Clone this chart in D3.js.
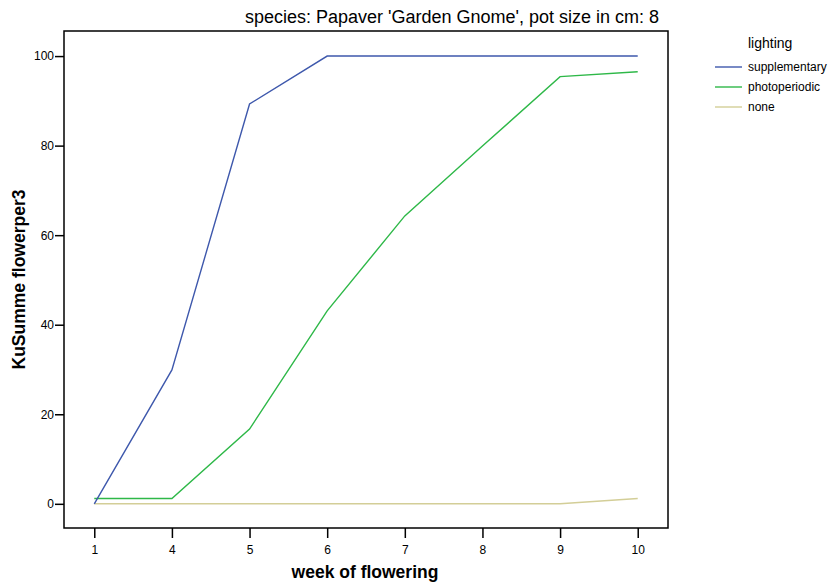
<!DOCTYPE html>
<html>
<head>
<meta charset="utf-8">
<script src="https://cdn.jsdelivr.net/npm/d3@7"></script>
<style>
  body { margin: 0; background: #fff; }
  svg { font-family: "Liberation Sans", Arial, sans-serif; }
</style>
</head>
<body>
<svg id="chart" width="833" height="583"></svg>
<script>
// weeks on the x axis (categorical)
const weeks = ["1", "4", "5", "6", "7", "8", "9", "10"];
const yTicks = [0, 20, 40, 60, 80, 100];

const supplementary = [0, 29.9, 89.3, 100, 100, 100, 100, 100];
const photoperiodic = [1.2, 1.2, 16.7, 43.1, 64.3, 79.9, 95.4, 96.5];
const none = [0, 0, 0, 0, 0, 0, 0, 1.2];

const seriesNames = ["supplementary", "photoperiodic", "none"];
const seriesColors = ["#3e58ac", "#2eb848", "#d3ce97"];
const seriesData = [supplementary, photoperiodic, none];

const svg = d3.select("#chart");
const margin = { top: 31, right: 165, bottom: 55, left: 64 };
const width = 833, height = 583;

const x = d3.scalePoint()
  .domain(weeks)
  .range([margin.left, width - margin.right])
  .padding(0.39);

const y = d3.scaleLinear()
  .domain([-5.4, 105.6])
  .range([height - margin.bottom, margin.top]);

// frame
svg.append("rect")
  .attr("x", margin.left)
  .attr("y", margin.top)
  .attr("width", width - margin.right - margin.left)
  .attr("height", height - margin.bottom - margin.top)
  .attr("fill", "none")
  .attr("stroke", "#000")
  .attr("stroke-width", 1.5);

const xAxis = g => g
  .attr("transform", `translate(0,${height - margin.bottom})`)
  .call(d3.axisBottom(x).tickSize(10).tickPadding(7).tickSizeOuter(0))
  .call(g => g.select(".domain").remove())
  .call(g => g.selectAll("line").attr("stroke-width", 1.5))
  .call(g => g.selectAll("text").style("font-size", "12px").attr("fill", "#000"));

const yAxis = g => g
  .attr("transform", `translate(${margin.left},0)`)
  .call(d3.axisLeft(y).tickValues(yTicks).tickSize(9).tickPadding(1).tickSizeOuter(0))
  .call(g => g.select(".domain").remove())
  .call(g => g.selectAll("line").attr("stroke-width", 1.5))
  .call(g => g.selectAll("text").style("font-size", "12px").attr("fill", "#000"));

svg.append("g").call(xAxis);
svg.append("g").call(yAxis);

const line = d3.line()
  .x((d, i) => x(weeks[i]))
  .y(d => y(d));

// draw none first so the others sit on top
[2, 1, 0].forEach(k => {
  svg.append("path")
    .datum(seriesData[k])
    .attr("fill", "none")
    .attr("stroke", seriesColors[k])
    .attr("stroke-width", 1.4)
    .attr("d", line);
});

// titles
svg.append("text")
  .attr("x", 452)
  .attr("y", 23)
  .attr("text-anchor", "middle")
  .style("font-size", "18px")
  .text("species: Papaver 'Garden Gnome', pot size in cm: 8");

svg.append("text")
  .attr("x", 365)
  .attr("y", 578)
  .attr("text-anchor", "middle")
  .style("font-size", "17.5px")
  .style("font-weight", "bold")
  .text("week of flowering");

svg.append("text")
  .attr("transform", `translate(25,${(margin.top + height - margin.bottom) / 2}) rotate(-90)`)
  .attr("text-anchor", "middle")
  .style("font-size", "17.5px")
  .style("font-weight", "bold")
  .text("KuSumme flowerper3");

// legend
const legend = svg.append("g").attr("transform", "translate(715,0)");
legend.append("text")
  .attr("x", 33)
  .attr("y", 48)
  .style("font-size", "14px")
  .text("lighting");

seriesNames.forEach((name, i) => {
  const yy = 67 + i * 20;
  legend.append("line")
    .attr("x1", 0).attr("x2", 27)
    .attr("y1", yy).attr("y2", yy)
    .attr("stroke", seriesColors[i])
    .attr("stroke-width", 1.4);
  legend.append("text")
    .attr("x", 33)
    .attr("y", yy + 4)
    .style("font-size", "12px")
    .text(name);
});
</script>
</body>
</html>
